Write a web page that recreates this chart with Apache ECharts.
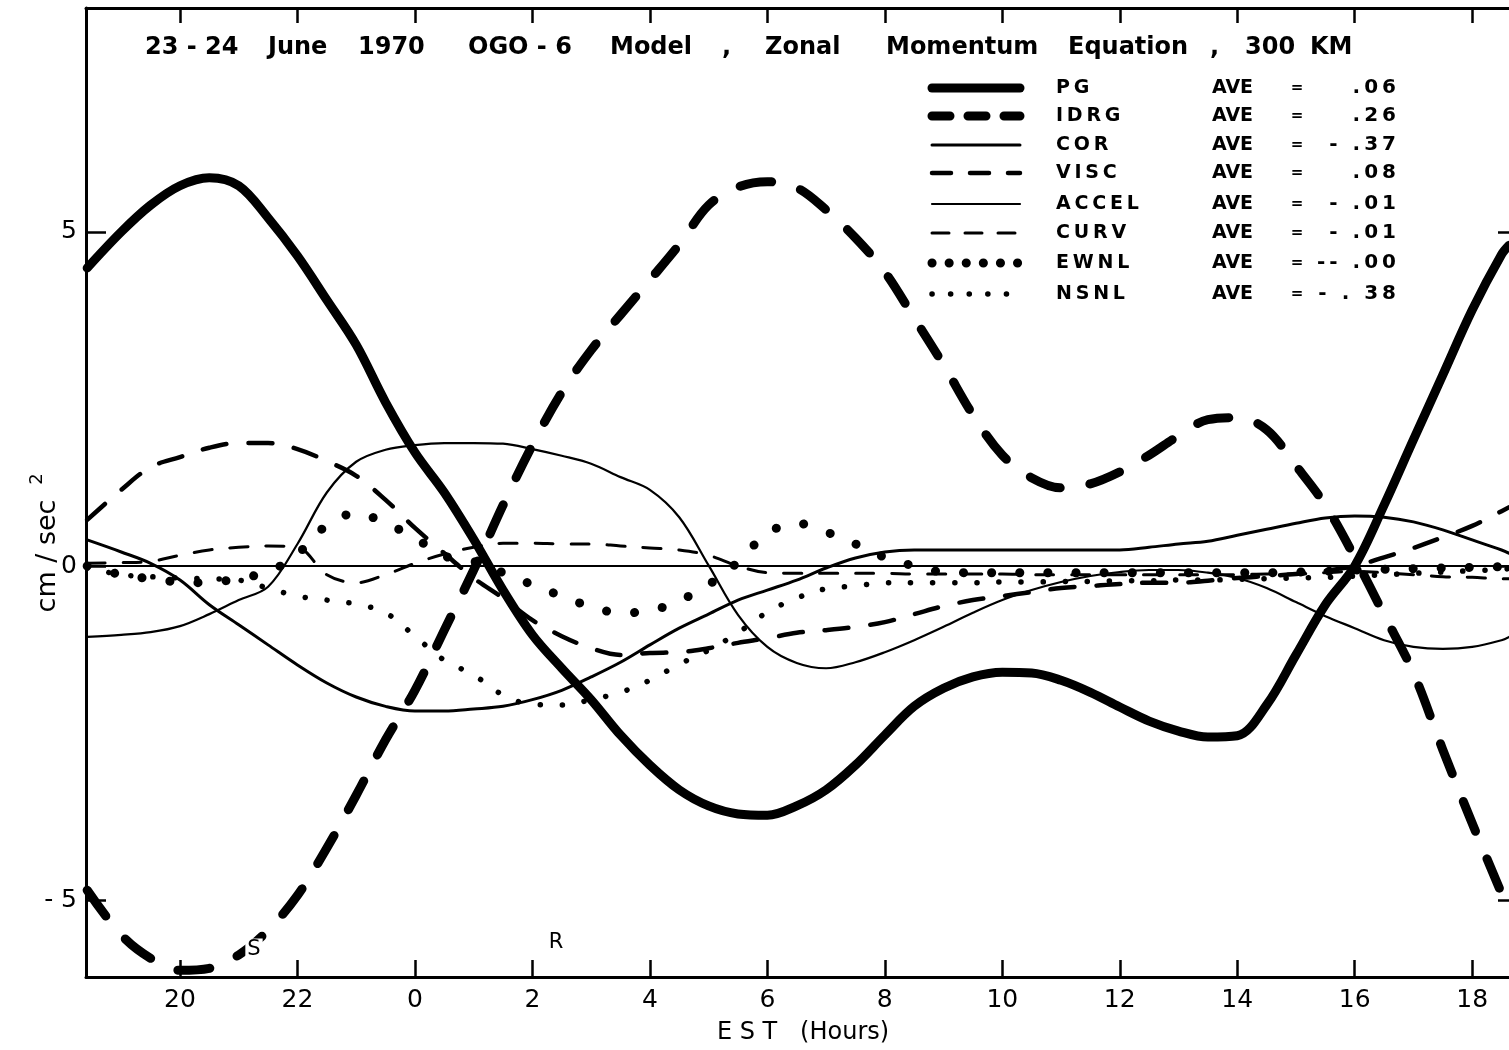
<!DOCTYPE html>
<html>
<head>
<meta charset="utf-8">
<title>OGO-6 Model, Zonal Momentum Equation, 300 KM</title>
<script src="https://cdn.jsdelivr.net/npm/echarts@6/dist/echarts.min.js"></script>
<style>
  html, body { margin: 0; padding: 0; background: #fff; }
  #chart { width: 1509px; height: 1050px; }
</style>
</head>
<body>
<div id="chart"></div>
<script>
// Local time in hours, counted continuously from the evening of 23 June (24 = midnight)
const HOURS = [18.42,
  19, 19.5, 20, 20.5, 21, 21.5, 22, 22.5, 23, 23.5,
  24, 24.5, 25, 25.5, 26, 26.5, 27, 27.5, 28, 28.5,
  29, 29.5, 30, 30.5, 31, 31.5, 32, 32.5, 33, 33.5,
  34, 34.5, 35, 35.5, 36, 36.5, 37, 37.5, 38, 38.5,
  39, 39.5, 40, 40.5, 41, 41.5, 42, 42.5, 42.63];

// Terms of the zonal momentum equation, cm/sec^2
const PG = [4.46,
  5.00, 5.40, 5.69, 5.81, 5.69, 5.21, 4.64, 3.98, 3.31, 2.45,
  1.70, 1.10, 0.40, -0.36, -1.03, -1.53, -2.00, -2.53, -2.98, -3.35,
  -3.59, -3.71, -3.73, -3.59, -3.35, -2.98, -2.53, -2.10, -1.83, -1.66,
  -1.59, -1.60, -1.71, -1.89, -2.11, -2.32, -2.47, -2.56, -2.54, -2.08,
  -1.33, -0.58, 0.00, 0.91, 1.89, 2.86, 3.83, 4.66, 4.80];

const IDRG = [-4.85,
  -5.52, -5.87, -6.05, -6.02, -5.82, -5.45, -4.93, -4.22, -3.43, -2.60,
  -1.86, -0.96, -0.06, 0.91, 1.81, 2.60, 3.23, 3.76, 4.28, 4.81,
  5.40, 5.67, 5.75, 5.66, 5.33, 4.91, 4.40, 3.71, 3.01, 2.26,
  1.66, 1.32, 1.17, 1.23, 1.41, 1.66, 1.95, 2.19, 2.22, 2.04,
  1.50, 0.91, 0.13, -0.73, -1.60, -2.75, -3.85, -4.90, -5.18];

const COR = [0.39,
  0.21, 0.04, -0.21, -0.58, -0.88, -1.18, -1.48, -1.75, -1.96, -2.10,
  -2.17, -2.17, -2.14, -2.10, -2.00, -1.86, -1.66, -1.44, -1.18, -0.93,
  -0.72, -0.51, -0.36, -0.21, -0.03, 0.12, 0.21, 0.24, 0.24, 0.24,
  0.24, 0.24, 0.24, 0.24, 0.24, 0.28, 0.33, 0.37, 0.46, 0.55,
  0.64, 0.72, 0.75, 0.73, 0.66, 0.54, 0.39, 0.24, 0.19];

const VISC = [0.69,
  1.14, 1.48, 1.63, 1.77, 1.84, 1.84, 1.75, 1.57, 1.35, 0.99,
  0.57, 0.19, -0.18, -0.48, -0.81, -1.05, -1.23, -1.33, -1.30, -1.29,
  -1.23, -1.15, -1.08, -1.00, -0.96, -0.91, -0.84, -0.72, -0.60, -0.51,
  -0.45, -0.39, -0.33, -0.30, -0.27, -0.25, -0.25, -0.22, -0.18, -0.15,
  -0.12, -0.07, 0.00, 0.13, 0.27, 0.43, 0.60, 0.82, 0.88];

const ACCEL = [-1.06,
  -1.03, -0.99, -0.90, -0.72, -0.51, -0.31, 0.33, 1.10, 1.56, 1.74,
  1.81, 1.84, 1.84, 1.83, 1.75, 1.65, 1.53, 1.33, 1.14, 0.73,
  0.01, -0.73, -1.21, -1.45, -1.53, -1.44, -1.29, -1.11, -0.91, -0.70,
  -0.51, -0.36, -0.24, -0.15, -0.09, -0.06, -0.06, -0.10, -0.18, -0.33,
  -0.54, -0.75, -0.93, -1.11, -1.21, -1.24, -1.21, -1.11, -1.06];

const CURV = [0.04,
  0.05, 0.07, 0.16, 0.24, 0.28, 0.30, 0.28, -0.13, -0.25, -0.13,
  0.04, 0.18, 0.28, 0.34, 0.34, 0.33, 0.33, 0.30, 0.27, 0.24,
  0.16, 0.00, -0.10, -0.11, -0.11, -0.11, -0.11, -0.12, -0.12, -0.12,
  -0.12, -0.13, -0.13, -0.13, -0.13, -0.13, -0.13, -0.13, -0.13, -0.12,
  -0.12, -0.10, -0.08, -0.10, -0.13, -0.16, -0.17, -0.19, -0.19];

const EWNL = [0.00,
  -0.13, -0.19, -0.24, -0.25, -0.18, -0.09, 0.18, 0.61, 0.79, 0.64,
  0.42, 0.15, 0.07, -0.10, -0.28, -0.45, -0.61, -0.70, -0.67, -0.52,
  -0.28, 0.06, 0.49, 0.64, 0.51, 0.33, 0.13, 0.00, -0.09, -0.10,
  -0.10, -0.10, -0.10, -0.10, -0.10, -0.10, -0.10, -0.10, -0.10, -0.10,
  -0.09, -0.08, -0.06, -0.05, -0.04, -0.03, -0.02, -0.01, 0.00];

const NSNL = [-0.03,
  -0.13, -0.16, -0.18, -0.19, -0.21, -0.33, -0.45, -0.51, -0.57, -0.70,
  -1.05, -1.41, -1.63, -1.93, -2.07, -2.08, -2.00, -1.89, -1.71, -1.47,
  -1.26, -1.00, -0.69, -0.48, -0.34, -0.30, -0.25, -0.25, -0.25, -0.25,
  -0.24, -0.24, -0.23, -0.23, -0.22, -0.22, -0.21, -0.21, -0.20, -0.19,
  -0.18, -0.17, -0.15, -0.13, -0.11, -0.09, -0.07, -0.05, -0.04];

const TERM_NAMES = ['PG', 'IDRG', 'COR', 'VISC', 'ACCEL', 'CURV', 'EWNL', 'NSNL'];
const TERM_VALUES = [PG, IDRG, COR, VISC, ACCEL, CURV, EWNL, NSNL];
const AVE_TEXT = ['.06', '.26', '- .37', '.08', '- .01', '- .01', '-- .00', '- . 38'];

const X_TICKS = [20, 22, 24, 26, 28, 30, 32, 34, 36, 38, 40, 42];
const Y_TICKS = [-5, 0, 5];

// Pen styles: plotted curve and its legend swatch
const PENS = {
  PG:    { width: 9,   type: 'solid',  swatch: null },
  IDRG:  { width: 9,   type: [32, 30], swatch: [18, 18] },
  COR:   { width: 3,   type: 'solid',  swatch: null },
  VISC:  { width: 4.5, type: [24, 22], swatch: [19, 19] },
  ACCEL: { width: 2.2, type: 'solid',  swatch: null },
  CURV:  { width: 3,   type: [18, 18], swatch: [17, 16] },
  EWNL:  { width: 9,   type: [0.1, 28], swatch: [0.1, 17] },
  NSNL:  { width: 5.5, type: [0.1, 22], swatch: [0.1, 18.5] }
};

const FONT = 'DejaVu Sans';
const INK = '#000';
const spaced = s => s.split('').join('\u2009');

const chart = echarts.init(document.getElementById('chart'), null, { renderer: 'canvas' });

const series = TERM_NAMES.map((name, k) => {
  const pen = PENS[name];
  const s = {
    name,
    type: 'line',
    data: HOURS.map((h, i) => [h, TERM_VALUES[k][i]]),
    smooth: 0.35,
    symbol: 'none',
    silent: true,
    lineStyle: { color: INK, width: pen.width, type: pen.type, cap: 'round', join: 'round' },
    z: 3
  };
  if (name === 'ACCEL') {
    // zero reference line
    s.markLine = {
      silent: true,
      symbol: ['none', 'none'],
      label: { show: false },
      lineStyle: { color: INK, width: 2, type: 'solid' },
      data: [{ yAxis: 0 }]
    };
  }
  return s;
});

// Header and legend block
const graphic = [];
const title = [
  ['23 - 24', 145], ['June', 268], ['1970', 358], ['OGO - 6', 468], ['Model', 610],
  [',', 722], ['Zonal', 765], ['Momentum', 886], ['Equation', 1068], [',', 1210],
  ['300', 1245], ['KM', 1310]
];
title.forEach(([t, x]) => graphic.push({
  type: 'text', x, y: 48, silent: true,
  style: { text: t, fill: INK, font: 'bold 24px "' + FONT + '"', textVerticalAlign: 'middle' }
}));

const ROWS = [88, 116, 145, 173, 204, 233, 263, 294];
TERM_NAMES.forEach((name, k) => {
  const pen = PENS[name];
  const y = ROWS[k];
  graphic.push({
    type: 'line', silent: true,
    shape: { x1: 932, y1: y, x2: 1020, y2: y },
    style: { stroke: INK, lineWidth: pen.width, lineDash: pen.swatch, lineCap: 'round' }
  });
  graphic.push({
    type: 'text', x: 1056, y, silent: true,
    style: { text: spaced(name), fill: INK, font: 'bold 19px "' + FONT + '"', textVerticalAlign: 'middle' }
  });
  graphic.push({
    type: 'text', x: 1212, y, silent: true,
    style: { text: 'AVE', fill: INK, font: 'bold 19px "' + FONT + '"', textVerticalAlign: 'middle' }
  });
  graphic.push({
    type: 'text', x: 1297, y, silent: true,
    style: { text: '=', fill: INK, font: 'bold 15px "' + FONT + '"', textAlign: 'center', textVerticalAlign: 'middle' }
  });
  graphic.push({
    type: 'text', x: 1396, y, silent: true,
    style: { text: spaced(AVE_TEXT[k]), fill: INK, font: 'bold 20px "' + FONT + '"', textAlign: 'right', textVerticalAlign: 'middle' }
  });
});

// Axis titles and sunset / sunrise marks
graphic.push({
  type: 'text', x: 803, y: 1033, silent: true,
  style: { text: 'E S T   (Hours)', fill: INK, font: '24px "' + FONT + '"', textAlign: 'center', textVerticalAlign: 'middle' }
});
graphic.push({
  type: 'text', x: 48, y: 556, rotation: Math.PI / 2, silent: true,
  style: { text: 'cm / sec', fill: INK, font: '27px "' + FONT + '"', textAlign: 'center', textVerticalAlign: 'middle' }
});
graphic.push({
  type: 'text', x: 37, y: 479, rotation: Math.PI / 2, silent: true,
  style: { text: '2', fill: INK, font: '18px "' + FONT + '"', textAlign: 'center', textVerticalAlign: 'middle' }
});
graphic.push({
  type: 'text', x: 254, y: 950, silent: true, z: 10,
  style: { text: 'S', fill: INK, font: '21px "' + FONT + '"', textAlign: 'center', textVerticalAlign: 'middle',
           backgroundColor: '#fff', padding: [1, 2] }
});
graphic.push({
  type: 'text', x: 556, y: 943, silent: true,
  style: { text: 'R', fill: INK, font: '21px "' + FONT + '"', textAlign: 'center', textVerticalAlign: 'middle' }
});

const frameLine = { show: true, onZero: false, lineStyle: { color: INK, width: 3 } };
const xRange = { min: 18.4, max: 42.78 };
const yRange = { min: -6.15, max: 8.35 };

const option = {
  animation: false,
  backgroundColor: '#fff',
  grid: { left: 86, top: 8, width: 1432, height: 969, show: false, containLabel: false, outerBoundsMode: 'none' },
  xAxis: [
    {
      type: 'value', position: 'bottom', ...xRange,
      axisLine: frameLine,
      axisTick: { show: true, inside: true, length: 17, customValues: X_TICKS, lineStyle: { color: INK, width: 2.5 } },
      axisLabel: {
        show: true, customValues: X_TICKS, margin: 11, color: INK, fontSize: 25, fontFamily: FONT,
        formatter: v => String(Math.round(v) % 24)
      },
      splitLine: { show: false }
    },
    {
      type: 'value', position: 'top', ...xRange,
      axisLine: frameLine,
      axisTick: { show: true, inside: true, length: 15, customValues: X_TICKS, lineStyle: { color: INK, width: 2.5 } },
      axisLabel: { show: false },
      splitLine: { show: false }
    }
  ],
  yAxis: [
    {
      type: 'value', position: 'left', ...yRange,
      axisLine: frameLine,
      axisTick: { show: true, inside: true, length: 20, customValues: Y_TICKS, lineStyle: { color: INK, width: 2.5 } },
      axisLabel: {
        show: true, customValues: Y_TICKS, margin: 9, color: INK, fontSize: 25, fontFamily: FONT,
        formatter: v => (v < 0 ? '- ' + Math.abs(v) : String(v))
      },
      splitLine: { show: false }
    },
    {
      type: 'value', position: 'right', ...yRange,
      axisLine: frameLine,
      axisTick: { show: true, inside: true, length: 20, customValues: Y_TICKS, lineStyle: { color: INK, width: 2.5 } },
      axisLabel: { show: false },
      splitLine: { show: false }
    }
  ],
  series,
  graphic
};

chart.setOption(option);
</script>
</body>
</html>
